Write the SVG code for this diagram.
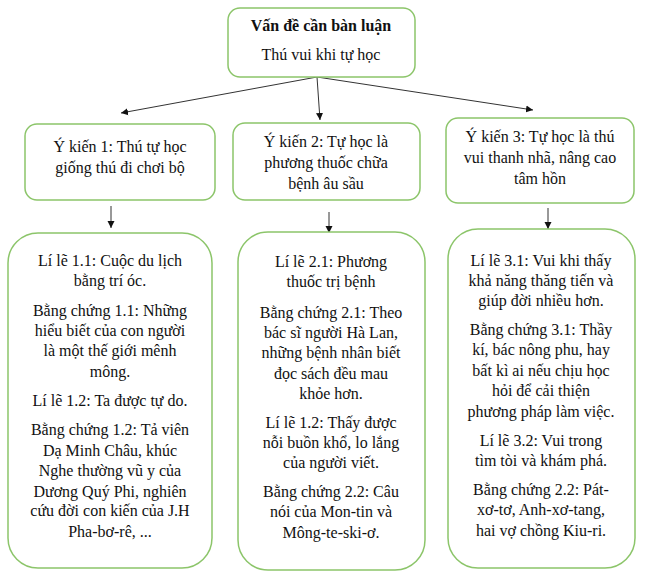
<svg xmlns="http://www.w3.org/2000/svg" width="646" height="579" viewBox="0 0 646 579">
<style>
.b{fill:#fff;stroke:#8cc56a;stroke-width:1.5}
text{font-family:"Liberation Serif",serif;font-size:16px;fill:#111;text-anchor:middle}
.c line{stroke:#333;stroke-width:1}
</style>
<defs><marker id="a" markerWidth="8" markerHeight="8" refX="7" refY="4" orient="auto" markerUnits="userSpaceOnUse"><path d="M0,0.5L7,4L0,7.5z" fill="#111"/></marker></defs>
<rect width="646" height="579" fill="#fff"/>
<g class="c">
<line x1="317" y1="77" x2="121" y2="113" marker-end="url(#a)"/>
<line x1="317" y1="77" x2="320" y2="120" marker-end="url(#a)"/>
<line x1="317" y1="77" x2="533" y2="110" marker-end="url(#a)"/>
<line x1="111" y1="206" x2="111" y2="228" marker-end="url(#a)"/>
<line x1="329" y1="212" x2="329" y2="233" marker-end="url(#a)"/>
<line x1="548" y1="208" x2="548" y2="229" marker-end="url(#a)"/>
</g>
<g id="top"><rect class="b" x="228" y="8" width="187" height="69" rx="12"/>
<text x="321" y="31" font-weight="bold" font-size="17">Vấn đề cần bàn luận</text>
<text x="321" y="60">Thú vui khi tự học</text></g>
<g id="y1"><rect class="b" x="25" y="124" width="190" height="76" rx="12"/>
<text x="120" y="152">Ý kiến 1: Thú tự học</text><text x="120" y="173">giống thú đi chơi bộ</text></g>
<g id="y2"><rect class="b" x="233" y="123" width="187" height="77" rx="12"/>
<text x="326" y="147">Ý kiến 2: Tự học là</text><text x="326" y="168">phương thuốc chữa</text><text x="326" y="189">bệnh âu sầu</text></g>
<g id="y3"><rect class="b" x="446" y="118" width="188" height="85" rx="12"/>
<text x="540" y="142">Ý kiến 3: Tự học là thú</text><text x="540" y="163">vui thanh nhã, nâng cao</text><text x="540" y="184">tâm hồn</text></g>
<g id="l1"><rect class="b" x="8" y="233" width="204" height="335" rx="30"/>
<text x="110" y="266">Lí lẽ 1.1: Cuộc du lịch</text>
<text x="110" y="286">bằng trí óc.</text>
<text x="110" y="316">Bằng chứng 1.1: Những</text>
<text x="110" y="336">hiểu biết của con người</text>
<text x="110" y="356">là một thế giới mênh</text>
<text x="110" y="377">mông.</text>
<text x="110" y="406">Lí lẽ 1.2: Ta được tự do.</text>
<text x="110" y="435">Bằng chứng 1.2: Tả viên</text>
<text x="110" y="456">Dạ Minh Châu, khúc</text>
<text x="110" y="476">Nghe thường vũ y của</text>
<text x="110" y="497">Dương Quý Phi, nghiên</text>
<text x="110" y="516">cứu đời con kiến của J.H</text>
<text x="110" y="537">Pha-bơ-rê, ...</text></g>
<g id="l2"><rect class="b" x="238" y="232" width="187" height="338" rx="30"/>
<text x="331" y="267">Lí lẽ 2.1: Phương</text>
<text x="331" y="287">thuốc trị bệnh</text>
<text x="331" y="318">Bằng chứng 2.1: Theo</text>
<text x="331" y="338">bác sĩ người Hà Lan,</text>
<text x="331" y="358">những bệnh nhân biết</text>
<text x="331" y="379">đọc sách đều mau</text>
<text x="331" y="399">khỏe hơn.</text>
<text x="331" y="428">Lí lẽ 1.2: Thấy được</text>
<text x="331" y="448">nỗi buồn khổ, lo lắng</text>
<text x="331" y="468">của người viết.</text>
<text x="331" y="497">Bằng chứng 2.2: Câu</text>
<text x="331" y="517">nói của Mon-tin và</text>
<text x="331" y="538">Mông-te-ski-ơ.</text></g>
<g id="l3"><rect class="b" x="448" y="229" width="187" height="339" rx="30"/>
<text x="541" y="266">Lí lẽ 3.1: Vui khi thấy</text>
<text x="541" y="286">khả năng thăng tiến và</text>
<text x="541" y="306">giúp đời nhiều hơn.</text>
<text x="541" y="335">Bằng chứng 3.1: Thầy</text>
<text x="541" y="355">kí, bác nông phu, hay</text>
<text x="541" y="376">bất kì ai nếu chịu học</text>
<text x="541" y="396">hỏi để cải thiện</text>
<text x="541" y="417">phương pháp làm việc.</text>
<text x="541" y="446">Lí lẽ 3.2: Vui trong</text>
<text x="541" y="466">tìm tòi và khám phá.</text>
<text x="541" y="495">Bằng chứng 2.2: Pát-</text>
<text x="541" y="515">xơ-tơ, Anh-xơ-tang,</text>
<text x="541" y="536">hai vợ chồng Kiu-ri.</text></g>
</svg>
